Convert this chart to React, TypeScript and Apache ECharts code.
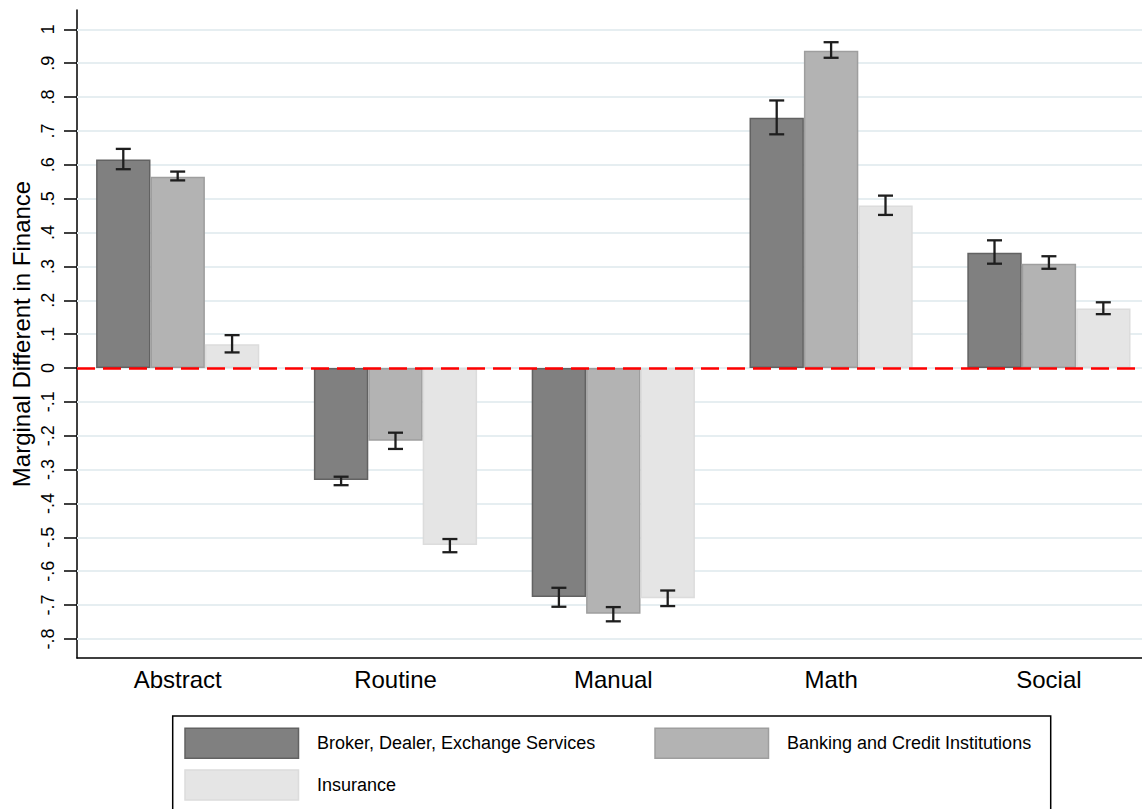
import React, { useEffect, useRef } from "react";
import * as echarts from "echarts";

// Skill dimensions along the horizontal axis
const categories = ["Abstract", "Routine", "Manual", "Math", "Social"];

// Sector names (legend order)
const seriesNames = [
  "Broker, Dealer, Exchange Services",
  "Banking and Credit Institutions",
  "Insurance",
];

// Point estimates per sector
const brokerValues = [0.616, -0.331, -0.676, 0.739, 0.34];
const bankingValues = [0.565, -0.215, -0.726, 0.937, 0.308];
const insuranceValues = [0.07, -0.523, -0.68, 0.48, 0.176];

// Confidence interval bounds per sector
const brokerLow = [0.587, -0.346, -0.705, 0.69, 0.308];
const brokerHigh = [0.647, -0.321, -0.649, 0.79, 0.377];
const bankingLow = [0.554, -0.239, -0.748, 0.916, 0.293];
const bankingHigh = [0.58, -0.191, -0.706, 0.962, 0.33];
const insuranceLow = [0.046, -0.544, -0.703, 0.452, 0.159];
const insuranceHigh = [0.097, -0.505, -0.657, 0.509, 0.194];

// Vertical axis tick values
const yTicks = [
  -0.8, -0.7, -0.6, -0.5, -0.4, -0.3, -0.2, -0.1, 0, 0.1, 0.2, 0.3, 0.4, 0.5,
  0.6, 0.7, 0.8, 0.9, 1,
];

const FONT = "'Liberation Sans', Arial, Helvetica, sans-serif";
const BAR_W = 54.4;
const fills = ["#808080", "#b3b3b3", "#e5e5e5"];
const borders = ["#626262", "#9e9e9e", "#dcdcdc"];

const fmtTick = (v: number) => {
  const r = Math.round(v * 10) / 10;
  if (r === 0) return "0";
  if (r === 1) return "1";
  const s = Math.abs(r).toFixed(1).replace(/^0/, "");
  return r < 0 ? "-" + s : s;
};

export default function App() {
  const ref = useRef<HTMLDivElement>(null);

  useEffect(() => {
    if (!ref.current) return;
    const chart = echarts.init(ref.current, undefined, { renderer: "svg" });

    const values = [brokerValues, bankingValues, insuranceValues];
    const lows = [brokerLow, bankingLow, insuranceLow];
    const highs = [brokerHigh, bankingHigh, insuranceHigh];

    const barSeries = values.map((vals, s) => {
      const base: any = {
        type: "bar",
        name: seriesNames[s],
        data: vals.map((v, i) => [i, v]),
        barWidth: BAR_W,
        barGap: "0%",
        z: 2,
        itemStyle: {
          color: fills[s],
          borderColor: borders[s],
          borderWidth: 1.5,
        },
        emphasis: { disabled: true },
        silent: true,
      };
      if (s === 0) {
        base.markLine = {
          silent: true,
          z: 1,
          symbol: ["none", "none"],
          label: { show: false },
          emphasis: { disabled: true },
          lineStyle: { color: "#E6EEF1", width: 1.8, type: "solid" },
          data: yTicks.map((t) => ({ yAxis: t })),
        };
      }
      if (s === 2) {
        base.markLine = {
          silent: true,
          z: 10,
          symbol: ["none", "none"],
          label: { show: false },
          emphasis: { disabled: true },
          lineStyle: { color: "#FF0000", width: 2.5, type: [18, 8] },
          data: [{ yAxis: 0 }],
        };
      }
      return base;
    });

    const errorSeries = values.map((_, s) => ({
      type: "custom",
      name: seriesNames[s] + " CI",
      z: 5,
      clip: false,
      silent: true,
      data: categories.map((_, i) => [i, lows[s][i], highs[s][i]]),
      encode: { x: 0, y: [1, 2] },
      renderItem: (params: any, api: any) => {
        const cx = api.coord([api.value(0), 0])[0] + (s - 1) * BAR_W;
        const yLo = api.coord([api.value(0), api.value(1)])[1];
        const yHi = api.coord([api.value(0), api.value(2)])[1];
        const half = 7.5;
        const style = { stroke: "#1e1e1e", lineWidth: 2.3 };
        return {
          type: "group",
          children: [
            { type: "line", shape: { x1: cx, y1: yLo, x2: cx, y2: yHi }, style },
            { type: "line", shape: { x1: cx - half, y1: yLo, x2: cx + half, y2: yLo }, style },
            { type: "line", shape: { x1: cx - half, y1: yHi, x2: cx + half, y2: yHi }, style },
          ],
        };
      },
    }));

    // Legend box drawn as graphic elements
    const keyPos = [
      [185, 728.3],
      [655, 728.3],
      [185, 770],
    ];
    const legendChildren: any[] = [
      {
        type: "rect",
        shape: { x: 172.7, y: 716, width: 878, height: 110 },
        style: { fill: "none", stroke: "#000", lineWidth: 1.5 },
      },
    ];
    seriesNames.forEach((name, s) => {
      const [kx, ky] = keyPos[s];
      legendChildren.push({
        type: "rect",
        shape: { x: kx, y: ky, width: 113.5, height: 30 },
        style: { fill: fills[s], stroke: borders[s], lineWidth: 1.5 },
      });
      legendChildren.push({
        type: "text",
        x: kx + 132,
        y: ky + 15,
        style: {
          text: name,
          fill: "#000",
          font: `18px ${FONT}`,
          align: "left",
          verticalAlign: "middle",
        },
      });
    });

    chart.setOption({
      animation: false,
      backgroundColor: "#ffffff",
      grid: { left: 77, right: 0, top: 10, bottom: 151, containLabel: false },
      xAxis: {
        type: "value",
        min: -0.4623,
        max: 4.4274,
        splitLine: { show: false },
        axisTick: { show: false },
        axisLine: { show: true, onZero: false, lineStyle: { color: "#000", width: 1.5 } },
        axisLabel: {
          customValues: categories.map((_, i) => i),
          formatter: (v: number) => categories[Math.round(v)] ?? "",
          color: "#000",
          fontSize: 24,
          fontFamily: FONT,
          margin: 9,
        },
      },
      yAxis: {
        type: "value",
        min: -0.8563,
        max: 1.0571,
        splitLine: { show: false },
        axisLine: { show: true, onZero: false, lineStyle: { color: "#000", width: 1.5 } },
        axisTick: {
          show: true,
          length: 13,
          customValues: yTicks,
          lineStyle: { color: "#000", width: 1.5 },
        },
        axisLabel: {
          customValues: yTicks,
          formatter: (v: number) => fmtTick(v),
          rotate: 90,
          color: "#000",
          fontSize: 18,
          fontFamily: FONT,
          margin: 20,
        },
      },
      graphic: [
        {
          type: "text",
          x: 21,
          y: 334,
          rotation: Math.PI / 2,
          style: {
            text: "Marginal Different in Finance",
            fill: "#000",
            font: `24px ${FONT}`,
            align: "center",
            verticalAlign: "middle",
          },
        },
        { type: "group", children: legendChildren },
      ],
      series: [...barSeries, ...errorSeries],
    });

    return () => chart.dispose();
  }, []);

  return (
    <div
      ref={ref}
      style={{
        position: "absolute",
        left: 0,
        top: 0,
        width: 1142,
        height: 809,
        background: "#fff",
      }}
    />
  );
}
